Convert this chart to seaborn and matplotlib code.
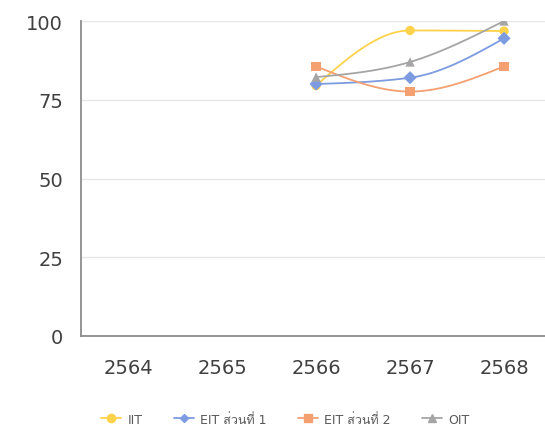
import numpy as np
import pandas as pd
import matplotlib
matplotlib.use("Agg")
import matplotlib.pyplot as plt
import seaborn as sns
from matplotlib import font_manager
from matplotlib.ft2font import FT2Font

# ข้อมูลคะแนน ITA
years = ["2564", "2565", "2566", "2567", "2568"]
iit = [None, None, 79.5, 97, 96.8]
eit1 = [None, None, 80, 82, 94.5]
eit2 = [None, None, 85.6, 77.6, 85.6]
oit = [None, None, 82.2, 87, 100]
series_names = ["IIT", "EIT ส่วนที่ 1", "EIT ส่วนที่ 2", "OIT"]

colors = ["#FFD24C", "#7D9BE0", "#F4A070", "#A5A5A5"]
markers = ["o", "D", "s", "^"]
msizes = [6, 4, 6, 6]


def thai_family():
    # หาฟอนต์ที่มีอักษรไทย
    for f in font_manager.fontManager.ttflist:
        try:
            ft = FT2Font(f.fname)
            if ft.get_char_index(ord("ส")) and ft.get_char_index(ord("A")):
                return f.name
        except Exception:
            pass
    return "DejaVu Sans"


sns.set_style("white")
thai = thai_family()
plt.rcParams["font.family"] = ["DejaVu Sans", thai]

df = pd.DataFrame({"year": years, "IIT": iit, "EIT1": eit1, "EIT2": eit2, "OIT": oit})
df["x"] = np.arange(len(years))
long = df.melt(id_vars=["year", "x"], var_name="series", value_name="score").dropna()
long["series"] = long["series"].map(dict(zip(["IIT", "EIT1", "EIT2", "OIT"], series_names)))


def smooth(xs, ys, n=40):
    # เส้นโค้งแบบ monotone (Steffen)
    xs = np.asarray(xs, float)
    ys = np.asarray(ys, float)
    h = np.diff(xs)
    d = np.diff(ys) / h
    m = np.zeros(len(xs))
    for k in range(1, len(xs) - 1):
        p = (d[k - 1] * h[k] + d[k] * h[k - 1]) / (h[k - 1] + h[k])
        m[k] = (np.sign(d[k - 1]) + np.sign(d[k])) * min(abs(d[k - 1]), abs(d[k]), 0.5 * abs(p))
    m[0] = (3 * d[0] - m[1]) / 2 if len(xs) > 2 else d[0]
    m[-1] = (3 * d[-1] - m[-2]) / 2 if len(xs) > 2 else d[-1]
    px, py = [], []
    for i in range(len(xs) - 1):
        t = np.linspace(0, 1, n)
        h00 = 2 * t ** 3 - 3 * t ** 2 + 1
        h10 = t ** 3 - 2 * t ** 2 + t
        h01 = -2 * t ** 3 + 3 * t ** 2
        h11 = t ** 3 - t ** 2
        px.extend(xs[i] + t * h[i])
        py.extend(h00 * ys[i] + h10 * h[i] * m[i] + h01 * ys[i + 1] + h11 * h[i] * m[i + 1])
    return np.array(px), np.array(py)


fig = plt.figure(figsize=(5.45, 4.35), dpi=100)
ax = fig.add_axes([0.149, 0.2253, 0.851, 0.7241])

for name, c in zip(series_names, colors):
    d = long[long["series"] == name].sort_values("x")
    sx, sy = smooth(d["x"], d["score"])
    sns.lineplot(x=sx, y=sy, ax=ax, color=c, linewidth=1.3, sort=False, estimator=None, legend=False)

sns.scatterplot(data=long, x="x", y="score", hue="series", style="series",
                palette=dict(zip(series_names, colors)),
                markers=dict(zip(series_names, markers)),
                s=45, edgecolor="none", ax=ax, legend=False, zorder=5)

ax.set_xlim(-0.5, 4.436)
ax.set_ylim(0, 100)
ax.set_xticks(range(len(years)))
ax.set_xticklabels(years)
ax.set_yticks([0, 25, 50, 75, 100])
ax.set_xlabel("")
ax.set_ylabel("")
ax.tick_params(axis="both", length=0, labelsize=14, labelcolor="#404040")
ax.tick_params(axis="y", pad=13)
ax.tick_params(axis="x", pad=16)
ax.grid(axis="y", color="#E6E6E6", linewidth=1)
ax.set_axisbelow(True)
for s in ["top", "right"]:
    ax.spines[s].set_visible(False)
ax.spines["left"].set_color("#8C8C8C")
ax.spines["bottom"].set_color("#8C8C8C")
ax.spines["left"].set_linewidth(1.3)
ax.spines["bottom"].set_linewidth(1.3)

handles = [plt.Line2D([], [], color=c, marker=m, markersize=ms, linewidth=1.3)
           for c, m, ms in zip(colors, markers, msizes)]
fig.legend(handles, series_names, loc="center", bbox_to_anchor=(0.523, 0.034), ncol=4,
           frameon=False, fontsize=9, labelcolor="#595959", handlelength=1.6,
           columnspacing=2.5, handletextpad=0.5)

fig.savefig("out.png", dpi=100)
